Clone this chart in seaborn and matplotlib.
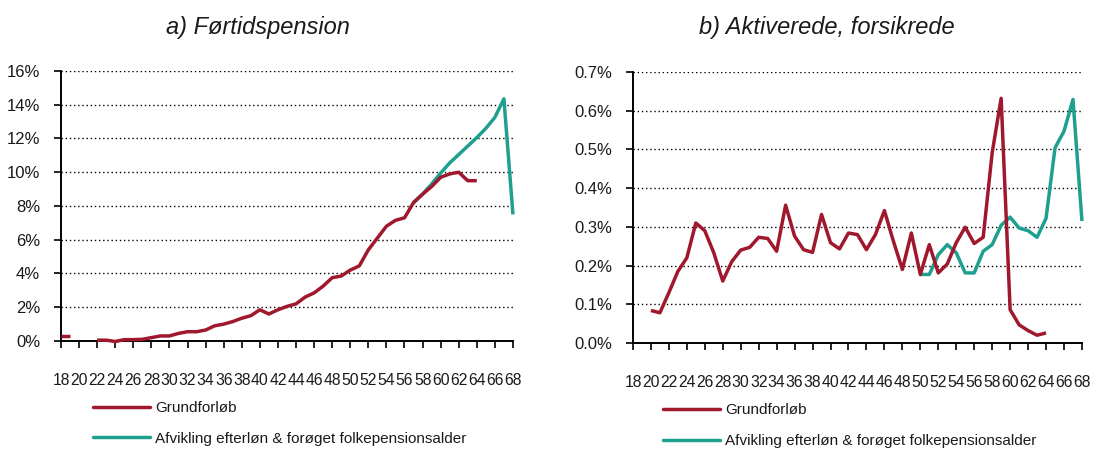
import numpy as np
import pandas as pd
import matplotlib
matplotlib.use("Agg")
import matplotlib.pyplot as plt
from matplotlib.lines import Line2D
from matplotlib.ticker import FuncFormatter
import seaborn as sns

# ages 18..68, values in percent, NaN = no value
ages = np.arange(18, 69)
nan = np.nan

fort_grund = [0.3, 0.3, nan, nan, 0.05, 0.05, -0.03, 0.08, 0.08, 0.1,
              0.2, 0.3, 0.3, 0.45, 0.55, 0.55, 0.65, 0.9, 1.0, 1.15,
              1.35, 1.5, 1.85, 1.6, 1.85, 2.05, 2.2, 2.6, 2.85, 3.25,
              3.75, 3.85, 4.2, 4.45, 5.4, 6.1, 6.8, 7.15, 7.3, 8.2,
              8.7, 9.15, 9.7, 9.9, 10.0, 9.5, 9.5, nan, nan, nan, nan]
fort_afv = [nan] * 39 + [8.2, 8.7, 9.3, 9.95, 10.55, 11.05, 11.55, 12.05,
                         12.6, 13.25, 14.35, 7.5]

akt_grund = [nan, nan, 0.084, 0.078, 0.13, 0.185, 0.22, 0.31, 0.29, 0.233,
             0.16, 0.21, 0.24, 0.247, 0.273, 0.27, 0.237, 0.356, 0.276, 0.241,
             0.234, 0.332, 0.259, 0.243, 0.284, 0.28, 0.241, 0.28, 0.342, 0.263,
             0.19, 0.284, 0.177, 0.254, 0.181, 0.204, 0.259, 0.299, 0.257, 0.273,
             0.491, 0.632, 0.086, 0.047, 0.032, 0.02, 0.026, nan, nan, nan, nan]
akt_afv = [nan] * 32 + [0.177, 0.177, 0.228, 0.254, 0.233, 0.181, 0.181, 0.237,
                        0.254, 0.304, 0.325, 0.297, 0.29, 0.273, 0.322, 0.504,
                        0.547, 0.629, 0.315]

titles = ["a) Førtidspension", "b) Aktiverede, forsikrede"]
labels = ["Grundforløb", "Afvikling efterløn & forøget folkepensionsalder"]
RED = "#A0182E"
TEAL = "#1FA08E"
INK = "#1a1a1a"

sns.set_style("white")
plt.rcParams["font.family"] = ["Liberation Sans", "DejaVu Sans"]
plt.rcParams["text.color"] = INK


def draw_series(ax, vals, color, z):
    df = pd.DataFrame({"age": ages, "val": vals})
    df["seg"] = df["val"].isna().cumsum()
    df = df.dropna()
    for _, part in df.groupby("seg"):
        sns.lineplot(data=part, x="age", y="val", ax=ax, color=color,
                     linewidth=2.5, zorder=z, clip_on=False,
                     solid_capstyle="butt", estimator=None)


fig = plt.figure(figsize=(10.93, 4.51), dpi=100)
ax1 = fig.add_axes([0.0558, 0.2439, 0.4135, 0.5987])
ax2 = fig.add_axes([0.5791, 0.2395, 0.4108, 0.6009])

panels = [
    (ax1, fort_grund, fort_afv, 16, 2, lambda v, p: "%d%%" % round(v), 0.071),
    (ax2, akt_grund, akt_afv, 0.7, 0.1, lambda v, p: "%.1f%%" % v, 0.067),
]

for ax, grund, afv, ymax, step, fmt, legx in panels:
    draw_series(ax, afv, TEAL, 3)
    draw_series(ax, grund, RED, 4)
    ax.set_xlim(18, 68)
    ax.set_ylim(0, ymax)
    ax.set_xticks(np.arange(18, 69, 2))
    ax.set_yticks(np.arange(0, ymax + step / 2, step))
    ax.yaxis.set_major_formatter(FuncFormatter(fmt))
    ax.set_xlabel("")
    ax.set_ylabel("")
    ax.grid(axis="y", color="black", linestyle=(0, (1, 2)), linewidth=1.0)
    ax.grid(axis="x", visible=False)
    for s in ["top", "right"]:
        ax.spines[s].set_visible(False)
    for s in ["left", "bottom"]:
        ax.spines[s].set_color("black")
        ax.spines[s].set_linewidth(1.4)
    ax.tick_params(axis="x", direction="out", length=5, width=1.2,
                   color="black", labelcolor=INK, pad=18, labelsize=11.3,
                   bottom=True)
    ax.tick_params(axis="y", direction="out", length=5, width=1.2,
                   color="black", labelcolor=INK, pad=10, labelsize=12,
                   left=True)
    handles = [Line2D([], [], color=RED, linewidth=2.5),
               Line2D([], [], color=TEAL, linewidth=2.5)]
    ax.legend(handles, labels, loc="upper left", bbox_to_anchor=(legx, -0.222),
              frameon=False, fontsize=11, handlelength=3.7, handletextpad=0.35,
              labelspacing=1.1, borderpad=0, borderaxespad=0)

fig.text(0.2356, 0.938, titles[0], ha="center", va="center",
         fontsize=17, style="italic")
fig.text(0.7566, 0.938, titles[1], ha="center", va="center",
         fontsize=17, style="italic")

fig.savefig("out.png", dpi=100)
